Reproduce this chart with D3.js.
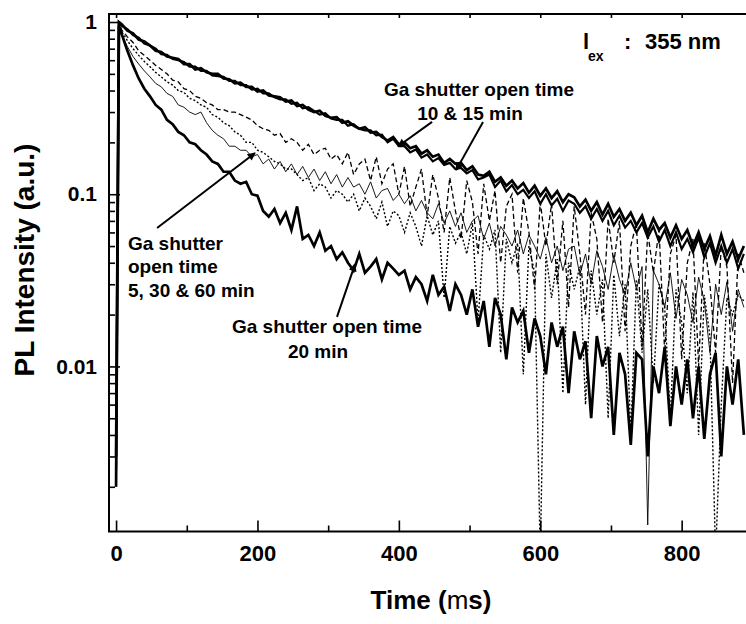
<!DOCTYPE html>
<html>
<head>
<meta charset="utf-8">
<script src="https://cdn.jsdelivr.net/npm/d3@7"></script>
<style>
  html, body { margin: 0; padding: 0; background: #fff; }
  svg { display: block; }
  text { font-family: "Liberation Sans", Arial, sans-serif; font-weight: bold; fill: #000; }
</style>
</head>
<body>
<svg id="chart" width="746" height="624"></svg>
<script>
// ---------------- DATA ----------------
const seriesNames = ["10 min", "15 min", "20 min", "5 min", "30 min", "60 min"];
const times = [0, 4].concat(d3.range(8, 889, 8)); // time (μs)

const s10 = [0.003, 1.0,
0.97, 0.89, 0.86, 0.79, 0.77, 0.73, 0.68, 0.67, 0.63, 0.62,
0.61, 0.57, 0.57, 0.53, 0.54, 0.51, 0.5, 0.5, 0.47, 0.465,
0.44, 0.445, 0.42, 0.42, 0.395, 0.4, 0.375, 0.37, 0.365, 0.345,
0.35, 0.325, 0.33, 0.31, 0.3, 0.305, 0.285, 0.278, 0.28, 0.26,
0.265, 0.25, 0.24, 0.245, 0.228, 0.23, 0.215, 0.205, 0.215, 0.195,
0.2, 0.185, 0.19, 0.172, 0.18, 0.165, 0.17, 0.152, 0.16, 0.15,
0.152, 0.138, 0.145, 0.13, 0.128, 0.135, 0.118, 0.125, 0.112, 0.12,
0.108, 0.116, 0.102, 0.112, 0.098, 0.108, 0.095, 0.104, 0.09, 0.1,
0.096, 0.085, 0.093, 0.08, 0.09, 0.076, 0.088, 0.074, 0.082, 0.07,
0.078, 0.066, 0.075, 0.06, 0.072, 0.062, 0.068, 0.056, 0.066, 0.055,
0.062, 0.05, 0.06, 0.048, 0.057, 0.044, 0.058, 0.045, 0.053, 0.042,
0.05];

const s15 = [0.0025, 0.98,
0.95, 0.91, 0.84, 0.81, 0.75, 0.73, 0.7, 0.65, 0.645, 0.61,
0.6, 0.585, 0.55, 0.55, 0.52, 0.52, 0.49, 0.485, 0.48, 0.455,
0.455, 0.43, 0.43, 0.405, 0.41, 0.385, 0.385, 0.365, 0.355, 0.355,
0.335, 0.34, 0.315, 0.32, 0.305, 0.29, 0.295, 0.275, 0.27, 0.27,
0.25, 0.255, 0.24, 0.235, 0.235, 0.22, 0.222, 0.2, 0.21, 0.19,
0.19, 0.175, 0.182, 0.163, 0.17, 0.155, 0.162, 0.148, 0.152, 0.14,
0.142, 0.132, 0.138, 0.122, 0.125, 0.13, 0.11, 0.12, 0.104, 0.113,
0.1, 0.106, 0.095, 0.104, 0.088, 0.1, 0.086, 0.094, 0.08, 0.092,
0.088, 0.078, 0.085, 0.072, 0.082, 0.07, 0.08, 0.066, 0.075, 0.064,
0.07, 0.06, 0.068, 0.056, 0.065, 0.053, 0.062, 0.05, 0.06, 0.048,
0.055, 0.046, 0.056, 0.043, 0.052, 0.04, 0.05, 0.04, 0.048, 0.037,
0.045];

const s20 = [0.002, 0.95,
0.85, 0.68, 0.56, 0.47, 0.41, 0.37, 0.33, 0.31, 0.27, 0.255,
0.23, 0.22, 0.2, 0.195, 0.18, 0.17, 0.155, 0.15, 0.135, 0.135,
0.12, 0.115, 0.118, 0.1, 0.098, 0.08, 0.074, 0.082, 0.068, 0.078,
0.062, 0.085, 0.055, 0.058, 0.05, 0.06, 0.047, 0.05, 0.042, 0.046,
0.04, 0.036, 0.045, 0.035, 0.038, 0.042, 0.032, 0.04, 0.037, 0.034,
0.036, 0.028, 0.033, 0.03, 0.024, 0.034, 0.026, 0.029, 0.021, 0.03,
0.026, 0.02, 0.028, 0.017, 0.024, 0.013, 0.025, 0.02, 0.011, 0.022,
0.018, 0.021, 0.012, 0.019, 0.015, 0.009, 0.018, 0.013, 0.017, 0.007,
0.016, 0.011, 0.014, 0.005, 0.015, 0.01, 0.013, 0.004, 0.012, 0.009,
0.0035, 0.012, 0.011, 0.003, 0.01, 0.007, 0.013, 0.0045, 0.01, 0.006,
0.011, 0.005, 0.01, 0.0038, 0.009, 0.012, 0.003, 0.01, 0.006, 0.011,
0.004];

const s5 = [0.003, 0.98,
0.85, 0.72, 0.63, 0.57, 0.52, 0.48, 0.44, 0.42, 0.385, 0.37,
0.33, 0.32, 0.3, 0.29, 0.3, 0.26, 0.235, 0.22, 0.21, 0.19,
0.19, 0.18, 0.18, 0.165, 0.17, 0.15, 0.16, 0.14, 0.155, 0.135,
0.15, 0.13, 0.145, 0.125, 0.14, 0.12, 0.135, 0.115, 0.13, 0.11,
0.125, 0.11, 0.115, 0.1, 0.118, 0.095, 0.105, 0.108, 0.092, 0.1,
0.088, 0.098, 0.08, 0.092, 0.078, 0.072, 0.088, 0.068, 0.08, 0.065,
0.078, 0.06, 0.07, 0.075, 0.055, 0.068, 0.05, 0.065, 0.058, 0.05,
0.062, 0.045, 0.058, 0.05, 0.042, 0.056, 0.04, 0.05, 0.036, 0.048,
0.05, 0.034, 0.045, 0.03, 0.047, 0.038, 0.028, 0.044, 0.032, 0.026,
0.04, 0.028, 0.038, 0.0012, 0.036, 0.03, 0.022, 0.035, 0.019, 0.032,
0.026, 0.018, 0.033, 0.024, 0.012, 0.03, 0.02, 0.031, 0.016, 0.028,
0.022];

const s30 = [0.003, 1.0,
0.9, 0.82, 0.76, 0.68, 0.64, 0.6, 0.56, 0.53, 0.5, 0.46,
0.45, 0.41, 0.4, 0.37, 0.36, 0.34, 0.33, 0.31, 0.31, 0.3,
0.3, 0.29, 0.28, 0.27, 0.25, 0.24, 0.235, 0.22, 0.225, 0.2,
0.21, 0.2, 0.18, 0.195, 0.17, 0.18, 0.185, 0.16, 0.17, 0.15,
0.175, 0.13, 0.15, 0.16, 0.12, 0.165, 0.115, 0.14, 0.15, 0.1,
0.145, 0.085, 0.11, 0.14, 0.075, 0.13, 0.095, 0.06, 0.125, 0.08,
0.055, 0.12, 0.09, 0.045, 0.115, 0.07, 0.105, 0.04, 0.085, 0.1,
0.035, 0.095, 0.06, 0.028, 0.09, 0.05, 0.088, 0.03, 0.07, 0.022,
0.085, 0.045, 0.02, 0.078, 0.055, 0.018, 0.072, 0.04, 0.07, 0.016,
0.05, 0.068, 0.013, 0.06, 0.035, 0.062, 0.012, 0.045, 0.058, 0.011,
0.04, 0.055, 0.01, 0.052, 0.03, 0.012, 0.05, 0.038, 0.008, 0.045,
0.035];

const s60 = [0.002, 0.95,
0.88, 0.78, 0.7, 0.64, 0.59, 0.55, 0.51, 0.48, 0.45, 0.43,
0.4, 0.39, 0.36, 0.35, 0.33, 0.32, 0.29, 0.28, 0.26, 0.25,
0.23, 0.22, 0.2, 0.2, 0.18, 0.175, 0.165, 0.155, 0.15, 0.14,
0.14, 0.13, 0.12, 0.125, 0.105, 0.115, 0.11, 0.095, 0.105, 0.1,
0.09, 0.1, 0.08, 0.095, 0.085, 0.072, 0.09, 0.065, 0.08, 0.075,
0.06, 0.078, 0.065, 0.05, 0.075, 0.058, 0.07, 0.025, 0.065, 0.052,
0.06, 0.045, 0.068, 0.018, 0.058, 0.048, 0.062, 0.012, 0.055, 0.04,
0.052, 0.009, 0.05, 0.035, 0.0008, 0.045, 0.025, 0.042, 0.007, 0.04,
0.028, 0.038, 0.006, 0.036, 0.02, 0.032, 0.005, 0.034, 0.015, 0.03,
0.004, 0.032, 0.012, 0.028, 0.008, 0.03, 0.022, 0.005, 0.028, 0.018,
0.007, 0.027, 0.004, 0.026, 0.015, 0.0008, 0.006, 0.025, 0.02, 0.026,
0.024];

const xTickValues = [0, 200, 400, 600, 800];
const xMinorValues = [100, 300, 500, 700];
const yTickValues = [1, 0.1, 0.01];
const yTickLabels = ["1", "0.1", "0.01"];
const yMinorValues = [0.002,0.003,0.004,0.005,0.006,0.007,0.008,0.009,
                      0.02,0.03,0.04,0.05,0.06,0.07,0.08,0.09,
                      0.2,0.3,0.4,0.5,0.6,0.7,0.8,0.9];

// ---------------- LAYOUT ----------------
const L = 109, R = 746, T = 14, B = 531.5;
const svg = d3.select("#chart");
const x = d3.scaleLinear().domain([-10, 891]).range([L, R]);
const y = d3.scaleLog().domain([0.0011, 1.113]).range([B, T]);

svg.append("defs").append("clipPath").attr("id", "clip")
  .append("rect").attr("x", L).attr("y", T).attr("width", R - L).attr("height", B - T);

const styles = {
  "10 min": { w: 2.7, dash: null },
  "15 min": { w: 2.2, dash: null },
  "20 min": { w: 2.7, dash: null },
  "5 min":  { w: 0.9, dash: null },
  "30 min": { w: 1.3, dash: "5,3" },
  "60 min": { w: 1.4, dash: "2,2" }
};
const seriesData = { "10 min": s10, "15 min": s15, "20 min": s20, "5 min": s5, "30 min": s30, "60 min": s60 };

const line = d3.line()
  .x(d => x(d.t))
  .y(d => y(Math.max(d.v, 1e-4)));

const plot = svg.append("g").attr("clip-path", "url(#clip)");
["60 min", "30 min", "5 min", "20 min", "15 min", "10 min"].forEach(name => {
  const vals = seriesData[name];
  const pts = times.map((t, i) => ({ t, v: vals[i] }));
  plot.append("path")
    .datum(pts)
    .attr("d", line)
    .attr("fill", "none")
    .attr("stroke", "#000")
    .attr("stroke-width", styles[name].w)
    .attr("stroke-linejoin", "miter")
    .attr("stroke-dasharray", styles[name].dash);
});

// ---------------- AXES ----------------
function styleAxis(g) {
  g.select(".domain").remove();
  g.selectAll(".tick line").attr("stroke", "#000").attr("stroke-width", 1.6);
  g.selectAll(".tick text").attr("fill", "#000");
}
svg.append("g").attr("transform", `translate(0,${B})`)
  .call(d3.axisBottom(x).tickValues(xTickValues).tickSizeInner(-11).tickSizeOuter(0)
    .tickPadding(14).tickFormat(d3.format("d")))
  .call(styleAxis)
  .call(g => g.selectAll(".tick text").style("font-size", "22px").style("font-family", "'Liberation Sans', Arial, sans-serif").style("font-weight", "bold"));
svg.append("g").attr("transform", `translate(0,${B})`)
  .call(d3.axisBottom(x).tickValues(xMinorValues).tickSizeInner(-6).tickSizeOuter(0).tickFormat(""))
  .call(styleAxis);
svg.append("g").attr("transform", `translate(0,${T})`)
  .call(d3.axisTop(x).tickValues(d3.merge([xTickValues, xMinorValues])).tickSizeInner(-4).tickSizeOuter(0).tickFormat(""))
  .call(styleAxis);
svg.append("g").attr("transform", `translate(${L},0)`)
  .call(d3.axisLeft(y).tickValues(yTickValues).tickSizeInner(-11).tickSizeOuter(0).tickPadding(12)
    .tickFormat((d, i) => yTickLabels[i]))
  .call(styleAxis)
  .call(g => g.selectAll(".tick text").style("font-size", "21px").style("font-family", "'Liberation Sans', Arial, sans-serif").style("font-weight", "bold"));
svg.append("g").attr("transform", `translate(${L},0)`)
  .call(d3.axisLeft(y).tickValues(yMinorValues).tickSizeInner(-6).tickSizeOuter(0).tickFormat(""))
  .call(styleAxis);

// frame
svg.append("path")
  .attr("d", `M${R},${T}H${L}V${B}H${R}`)
  .attr("fill", "none").attr("stroke", "#000").attr("stroke-width", 2);

// axis titles
const xt = svg.append("text").attr("x", 431).attr("y", 609).attr("text-anchor", "middle")
  .style("font-size", "26px");
xt.append("tspan").text("Time (");
xt.append("tspan").style("font-weight", "normal").text("m");
xt.append("tspan").text("s)");

svg.append("text")
  .attr("transform", "translate(34,260) rotate(-90)")
  .attr("text-anchor", "middle")
  .style("font-size", "28px")
  .text("PL Intensity (a.u.)");

// excitation label
svg.append("text").attr("x", 583).attr("y", 49).style("font-size", "22px").text("l");
svg.append("text").attr("x", 588).attr("y", 61).style("font-size", "14px").text("ex");
svg.append("text").attr("x", 624).attr("y", 49).style("font-size", "22px").text(":");
svg.append("text").attr("x", 645).attr("y", 49).style("font-size", "22px").text("355 nm");

// annotations
function txt(xp, yp, s, anchor) {
  svg.append("text").attr("x", xp).attr("y", yp).attr("text-anchor", anchor || "start")
    .style("font-size", "19px").text(s);
}
txt(479, 96, "Ga shutter open time", "middle");
txt(470, 120, "10 & 15 min", "middle");
txt(128, 250, "Ga shutter");
txt(128, 273, "open time");
txt(128, 297, "5, 30 & 60 min");
txt(327, 333, "Ga shutter open time", "middle");
txt(318, 358, "20 min", "middle");

// arrows (data coordinates: [t, v] start -> tip)
const arrows = [
  [[447, 0.263], [399, 0.19]],
  [[519, 0.263], [481, 0.138]],
  [[58, 0.0637], [196.5, 0.1735]],
  [[312.5, 0.0194], [338, 0.0393]]
];
svg.select("defs").append("marker")
  .attr("id", "ah").attr("viewBox", "0 0 10 10").attr("refX", 9).attr("refY", 5)
  .attr("markerWidth", 9).attr("markerHeight", 8).attr("markerUnits", "userSpaceOnUse")
  .attr("orient", "auto")
  .append("path").attr("d", "M0,0L10,5L0,10z").attr("fill", "#000");
arrows.forEach(([a, b]) => {
  svg.append("line")
    .attr("x1", x(a[0])).attr("y1", y(a[1]))
    .attr("x2", x(b[0])).attr("y2", y(b[1]))
    .attr("stroke", "#000").attr("stroke-width", 2)
    .attr("marker-end", "url(#ah)");
});
</script>
</body>
</html>
